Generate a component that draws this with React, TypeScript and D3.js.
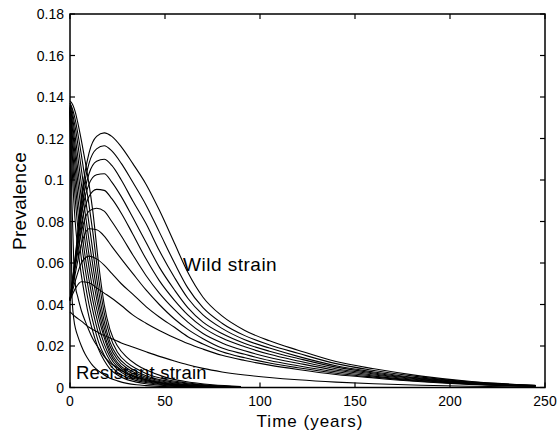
import React from "react";
import * as d3 from "d3";

// Time grids (years)
const wildTimes = [0, 3, 6, 10, 14, 18, 22, 27, 33, 40, 47, 55, 62, 70, 80, 92, 105, 120, 140, 160, 185, 210, 245];
const resistantTimes = [0, 1, 2, 3, 4, 6, 8, 10, 12, 15, 18, 21, 25, 30, 35, 40, 50, 60, 75, 90];

// Wild strain prevalence curves
const wild1 = [0.042, 0.065, 0.092, 0.113, 0.121, 0.1227, 0.121, 0.116, 0.108, 0.098, 0.0855, 0.0695, 0.0555, 0.0435, 0.0345, 0.0275, 0.0225, 0.018, 0.0125, 0.009, 0.0055, 0.003, 0.001];
const wild2 = [0.042, 0.064, 0.089, 0.108, 0.115, 0.1165, 0.114, 0.108, 0.099, 0.088, 0.075, 0.060, 0.048, 0.0385, 0.031, 0.025, 0.0205, 0.0165, 0.0115, 0.0082, 0.005, 0.0027, 0.001];
const wild3 = [0.042, 0.063, 0.086, 0.103, 0.109, 0.110, 0.107, 0.100, 0.090, 0.079, 0.066, 0.053, 0.043, 0.035, 0.0285, 0.023, 0.019, 0.015, 0.0105, 0.0075, 0.0045, 0.0025, 0.0009];
const wild4 = [0.042, 0.062, 0.083, 0.098, 0.1025, 0.103, 0.099, 0.092, 0.082, 0.070, 0.058, 0.047, 0.0385, 0.0315, 0.026, 0.0212, 0.0175, 0.014, 0.0098, 0.007, 0.0042, 0.0023, 0.0008];
const wild5 = [0.042, 0.061, 0.079, 0.092, 0.0955, 0.095, 0.091, 0.084, 0.074, 0.062, 0.0515, 0.042, 0.035, 0.029, 0.0238, 0.0196, 0.016, 0.0128, 0.009, 0.0065, 0.0039, 0.0021, 0.0008];
const wild6 = [0.042, 0.059, 0.075, 0.085, 0.0864, 0.085, 0.080, 0.073, 0.064, 0.054, 0.0455, 0.0375, 0.0315, 0.026, 0.0215, 0.0177, 0.0145, 0.0117, 0.0083, 0.006, 0.0036, 0.002, 0.0007];
const wild7 = [0.042, 0.056, 0.069, 0.0765, 0.076, 0.073, 0.068, 0.062, 0.055, 0.047, 0.040, 0.033, 0.028, 0.0235, 0.019, 0.016, 0.013, 0.0105, 0.0076, 0.0055, 0.0033, 0.0018, 0.0007];
const wild8 = [0.042, 0.052, 0.060, 0.0633, 0.062, 0.059, 0.055, 0.050, 0.045, 0.039, 0.034, 0.029, 0.0245, 0.021, 0.0172, 0.0143, 0.0118, 0.0095, 0.0069, 0.005, 0.003, 0.0017, 0.0006];
const wild9 = [0.042, 0.048, 0.051, 0.0505, 0.048, 0.0455, 0.043, 0.0395, 0.035, 0.031, 0.0275, 0.024, 0.0212, 0.0185, 0.0155, 0.013, 0.0108, 0.0087, 0.0063, 0.0046, 0.0028, 0.0015, 0.0006];
const wild10 = [0.0365, 0.034, 0.032, 0.029, 0.027, 0.025, 0.0235, 0.0215, 0.0195, 0.0172, 0.015, 0.0128, 0.011, 0.0092, 0.0075, 0.006, 0.0048, 0.0037, 0.0026, 0.0018, 0.0011, 0.0006, 0.0002];

// Resistant strain prevalence curves
const res1 = [0.138, 0.137, 0.135, 0.132, 0.128, 0.119, 0.109, 0.098, 0.085, 0.060, 0.040, 0.028, 0.020, 0.0145, 0.011, 0.0085, 0.005, 0.003, 0.0013, 0.0005];
const res2 = [0.137, 0.135, 0.132, 0.128, 0.123, 0.112, 0.100, 0.088, 0.075, 0.053, 0.036, 0.025, 0.017, 0.012, 0.009, 0.0068, 0.004, 0.0024, 0.001, 0.0004];
const res3 = [0.137, 0.134, 0.129, 0.124, 0.118, 0.105, 0.092, 0.079, 0.066, 0.047, 0.032, 0.022, 0.015, 0.0105, 0.0077, 0.0057, 0.0033, 0.002, 0.0008, 0.0003];
const res4 = [0.136, 0.132, 0.126, 0.119, 0.112, 0.098, 0.084, 0.071, 0.059, 0.042, 0.029, 0.020, 0.0135, 0.0093, 0.0067, 0.0049, 0.0028, 0.0016, 0.0007, 0.0003];
const res5 = [0.136, 0.130, 0.122, 0.114, 0.106, 0.091, 0.077, 0.064, 0.053, 0.038, 0.026, 0.018, 0.012, 0.0082, 0.0059, 0.0043, 0.0024, 0.0014, 0.0006, 0.0002];
const res6 = [0.135, 0.127, 0.118, 0.109, 0.100, 0.084, 0.070, 0.058, 0.047, 0.034, 0.024, 0.0165, 0.011, 0.0073, 0.0052, 0.0038, 0.002, 0.0012, 0.0005, 0.0002];
const res7 = [0.135, 0.124, 0.113, 0.103, 0.093, 0.077, 0.063, 0.052, 0.042, 0.030, 0.021, 0.0148, 0.0098, 0.0065, 0.0046, 0.0033, 0.0018, 0.001, 0.0004, 0.0001];
const res8 = [0.135, 0.120, 0.107, 0.096, 0.086, 0.070, 0.057, 0.046, 0.037, 0.026, 0.0185, 0.013, 0.0087, 0.0057, 0.004, 0.0029, 0.0015, 0.0008, 0.0003, 0.0001];
const res9 = [0.134, 0.115, 0.100, 0.088, 0.078, 0.062, 0.050, 0.040, 0.032, 0.022, 0.0155, 0.011, 0.0073, 0.0048, 0.0033, 0.0024, 0.0012, 0.0006, 0.0002, 0.0001];
const res10 = [0.134, 0.108, 0.090, 0.077, 0.068, 0.054, 0.043, 0.034, 0.027, 0.0185, 0.013, 0.009, 0.006, 0.0038, 0.0026, 0.0018, 0.0009, 0.0004, 0.0002, 0.0001];
const res11 = [0.133, 0.090, 0.060, 0.048, 0.044, 0.037, 0.032, 0.0275, 0.0235, 0.019, 0.015, 0.012, 0.0095, 0.0068, 0.005, 0.0037, 0.0019, 0.001, 0.0004, 0.0001];
const res12 = [0.133, 0.045, 0.033, 0.028, 0.025, 0.020, 0.016, 0.013, 0.0105, 0.008, 0.006, 0.0045, 0.0032, 0.002, 0.0013, 0.0009, 0.0004, 0.0002, 0.0001, 0];

const wildSeries = [wild1, wild2, wild3, wild4, wild5, wild6, wild7, wild8, wild9, wild10];
const resistantSeries = [res1, res2, res3, res4, res5, res6, res7, res8, res9, res10, res11, res12];

const xTicks = [0, 50, 100, 150, 200, 250];
const yTicks = [0, 0.02, 0.04, 0.06, 0.08, 0.1, 0.12, 0.14, 0.16, 0.18];
const yTickLabels = ["0", "0.02", "0.04", "0.06", "0.08", "0.1", "0.12", "0.14", "0.16", "0.18"];

const W = 560;
const H = 440;
const left = 70, right = 545, top = 14, bottom = 387.5;

export default function App() {
  const x = d3.scaleLinear().domain([0, 250]).range([left, right]);
  const y = d3.scaleLinear().domain([0, 0.18]).range([bottom, top]);
  const line = d3
    .line<[number, number]>()
    .x((d) => x(d[0]))
    .y((d) => y(d[1]))
    .curve(d3.curveMonotoneX);

  const font = "'Liberation Sans', Arial, sans-serif";
  const tickLen = 5;

  return (
    <svg
      width={W}
      height={H}
      style={{ position: "absolute", left: 0, top: 0, background: "#fff" }}
      fontFamily={font}
    >
      <rect x={0} y={0} width={W} height={H} fill="#fff" />
      {/* labels inside plot */}
      <text x={183} y={271} fontSize={19} letterSpacing={0.5} fill="#000">
        Wild strain
      </text>
      <text x={76} y={379} fontSize={18.5} letterSpacing={0.2} fill="#000">
        Resistant strain
      </text>
      {/* curves */}
      <g fill="none" stroke="#000" strokeWidth={1.1}>
        {wildSeries.map((s, i) => (
          <path key={"w" + i} d={line(wildTimes.map((t, j) => [t, s[j]])) || ""} />
        ))}
        {resistantSeries.map((s, i) => (
          <path key={"r" + i} d={line(resistantTimes.map((t, j) => [t, s[j]])) || ""} />
        ))}
      </g>
      {/* frame */}
      <rect
        x={left}
        y={top}
        width={right - left}
        height={bottom - top}
        fill="none"
        stroke="#000"
        strokeWidth={1.5}
      />
      {/* ticks */}
      <g stroke="#000" strokeWidth={1.2}>
        {xTicks.map((t) => (
          <g key={"xt" + t}>
            <line x1={x(t)} x2={x(t)} y1={bottom} y2={bottom - tickLen} />
            <line x1={x(t)} x2={x(t)} y1={top} y2={top + tickLen} />
          </g>
        ))}
        {yTicks.map((t) => (
          <g key={"yt" + t}>
            <line x1={left} x2={left + tickLen} y1={y(t)} y2={y(t)} />
            <line x1={right} x2={right - tickLen} y1={y(t)} y2={y(t)} />
          </g>
        ))}
      </g>
      {/* tick labels */}
      <g fontSize={14} fill="#000">
        {xTicks.map((t) => (
          <text key={"xl" + t} x={x(t)} y={406} textAnchor="middle">
            {t}
          </text>
        ))}
        {yTicks.map((t, i) => (
          <text key={"yl" + t} x={64} y={y(t) + 5} textAnchor="end">
            {yTickLabels[i]}
          </text>
        ))}
      </g>
      {/* axis titles */}
      <text x={310} y={427} fontSize={17} letterSpacing={1} textAnchor="middle" fill="#000">
        Time (years)
      </text>
      <text
        transform={`translate(26,201) rotate(-90)`}
        fontSize={19}
        letterSpacing={0.3}
        textAnchor="middle"
        fill="#000"
      >
        Prevalence
      </text>
    </svg>
  );
}
